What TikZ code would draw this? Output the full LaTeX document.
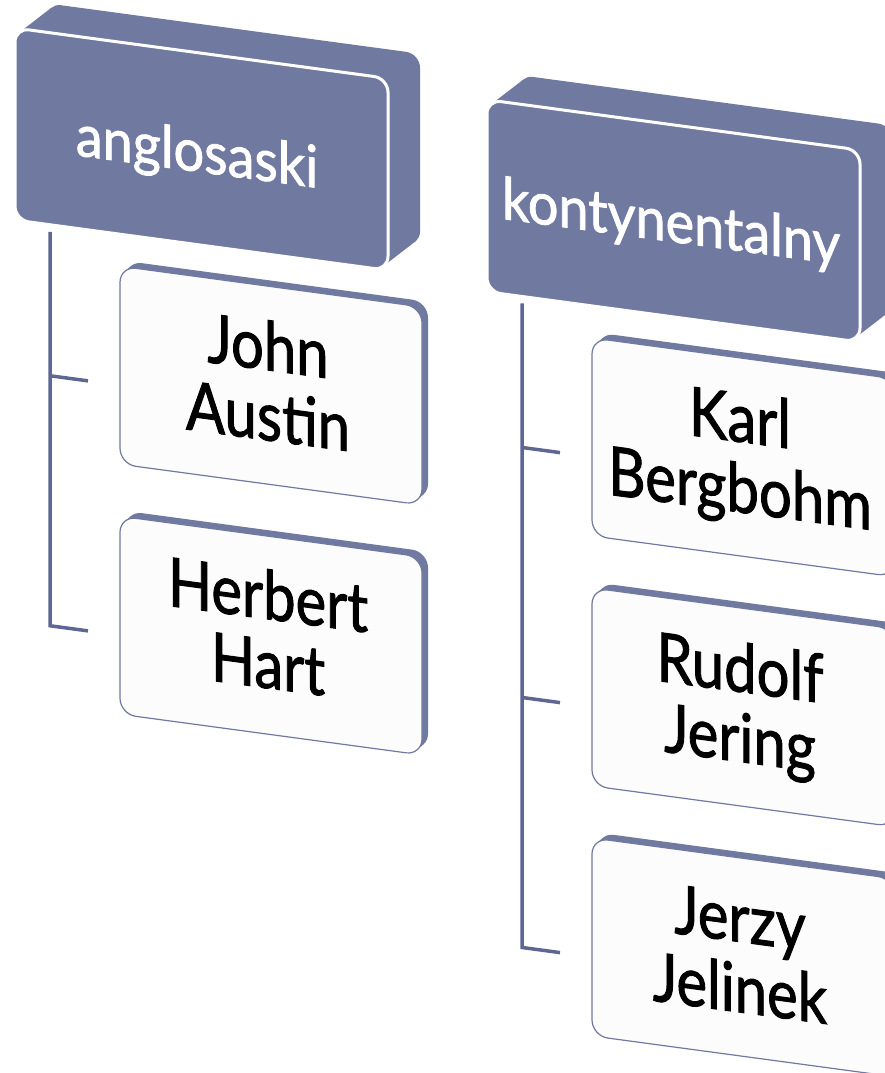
\documentclass[tikz,border=0pt]{standalone}
\usepackage{fontspec}
\setmainfont{Lato}[BoldFont={Lato}, BoldFeatures={FakeBold=1.5}]
\usepackage{graphicx}
\definecolor{slate}{HTML}{7079A0}
\definecolor{facew}{HTML}{FCFCFD}
\definecolor{connc}{HTML}{5E6792}
\newcommand{\extr}[7]{%
  \fill[ext,rounded corners=#5pt] ({#1-#3/2+#6},{#2-#4/2+#7}) -- ({#1+#3/2+#6},{#2-#4/2+#7}) -- ({#1+#3/2+#6},{#2+#4/2+#7}) -- ({#1-#3/2+#6},{#2+#4/2+#7}) -- cycle;
  \fill[ext] ({#1-#3/2+0.293*#5},{#2-#4/2+0.293*#5}) -- ++(#6,#7) -- ({#1+#3/2-0.293*#5+#6},{#2+#4/2-0.293*#5+#7}) -- ({#1+#3/2-0.293*#5},{#2+#4/2-0.293*#5}) -- cycle;
}
\newcommand{\tall}[1]{\scalebox{1}[1.17]{#1}}
\newcommand{\htall}[1]{\scalebox{1}[1.08]{#1}}
\newcommand{\twoline}[2]{\begin{tabular}[t]{@{}c@{}}\tall{#1}\\\tall{#2}\end{tabular}}
\begin{document}
\begin{tikzpicture}[x=1pt,y=-1pt,
  ext/.style={fill=slate},
  hdr/.style={rectangle, rounded corners=14pt, fill=slate, draw=white, line width=3pt, minimum width=373pt, minimum height=192pt, inner sep=0pt, outer sep=0pt},
  kid/.style={rectangle, rounded corners=16pt, fill=facew, draw=slate, line width=1.2pt, minimum width=302pt, minimum height=198pt, inner sep=0pt, outer sep=0pt},
  htxt/.style={text=white, font=\bfseries\fontsize{54}{62}\selectfont, anchor=base, inner sep=0pt},
  ktxt/.style={text=black, font=\bfseries\fontsize{58}{68}\selectfont, anchor=base, inner sep=0pt},
  conn/.style={draw=connc, line width=3.5pt}]
\useasboundingbox (0,0) rectangle (885,1073);
\begin{scope}[cm={1,-0.135,0,1,(0pt,0pt)}, transform shape]
  % left column
  \extr{201.5}{122}{373}{192}{14}{32}{-29}
  \node[hdr] (h1) at (201.5,122) {};
  \node[htxt] (t1) at (197,145) {\htall{anglosaski}};
  \coordinate (l0) at (50,225);
  \coordinate (l1) at (50,369);
  \coordinate (l2) at (50,619);
  \coordinate (la) at (88,369);
  \coordinate (lb) at (88,619);
  \draw[conn] (l0) -- (l2) -- (lb);
  \draw[conn] (l1) -- (la);
  \extr{271}{349}{302}{198}{16}{6}{-6}
  \node[kid] (k1) at (271,349) {};
  \node[ktxt] (tk1) at (268,334) {\twoline{John}{Austin}};
  \extr{271}{599}{302}{198}{16}{6}{-6}
  \node[kid] (k2) at (271,599) {};
  \node[ktxt] (tk2) at (268,583) {\twoline{Herbert}{Hart}};
  % right column
  \extr{673.5}{130}{373}{192}{14}{32}{-29}
  \node[hdr] (h2) at (673.5,130) {};
  \node[htxt] (t2) at (671,151) {\htall{kontynentalny}};
  \coordinate (r0) at (522,233);
  \coordinate (r1) at (522,377);
  \coordinate (r2) at (522,627);
  \coordinate (r3) at (522,877);
  \coordinate (ra) at (560,377);
  \coordinate (rb) at (560,627);
  \coordinate (rc) at (560,877);
  \draw[conn] (r0) -- (r3) -- (rc);
  \draw[conn] (r1) -- (ra);
  \draw[conn] (r2) -- (rb);
  \extr{743}{357}{302}{198}{16}{6}{-6}
  \node[kid] (k3) at (743,357) {};
  \node[ktxt] (tk3) at (740,342) {\twoline{Karl}{Bergbohm}};
  \extr{743}{607}{302}{198}{16}{6}{-6}
  \node[kid] (k4) at (743,607) {};
  \node[ktxt] (tk4) at (740,592) {\twoline{Rudolf}{Jering}};
  \extr{743}{857}{302}{198}{16}{6}{-6}
  \node[kid] (k5) at (743,857) {};
  \node[ktxt] (tk5) at (740,842) {\twoline{Jerzy}{Jelinek}};
\end{scope}
\end{tikzpicture}
\end{document}
